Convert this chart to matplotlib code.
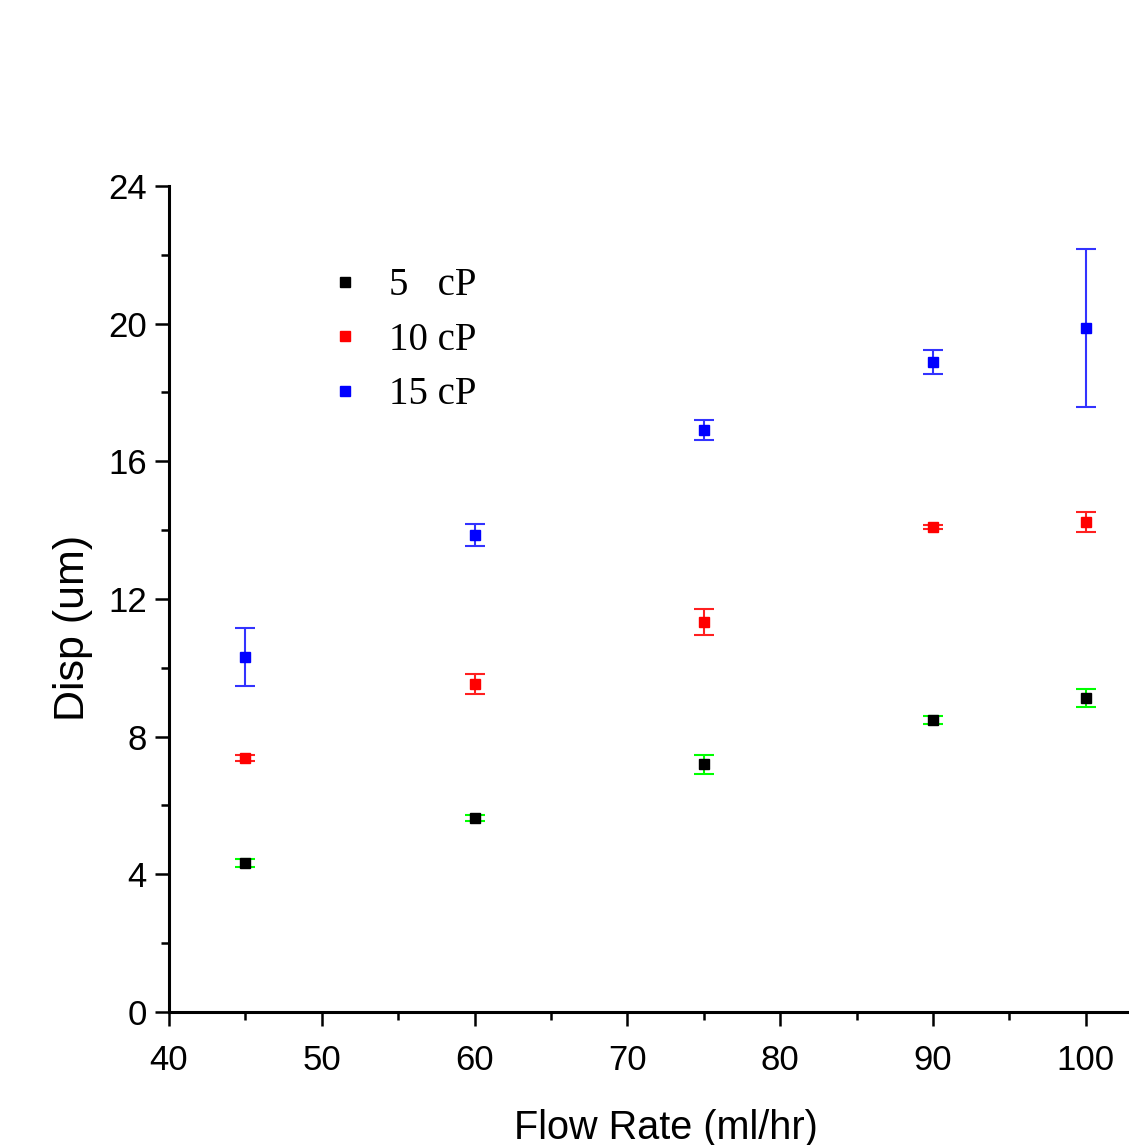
import matplotlib
matplotlib.use('Agg')
import matplotlib.pyplot as plt
from matplotlib.ticker import MultipleLocator
from matplotlib.lines import Line2D

flow = [45, 60, 75, 90, 100]

disp_5 = [4.33, 5.64, 7.20, 8.48, 9.12]
err_5 = [0.12, 0.08, 0.28, 0.12, 0.26]

disp_10 = [7.38, 9.53, 11.33, 14.09, 14.24]
err_10 = [0.10, 0.29, 0.38, 0.05, 0.29]

disp_15 = [10.31, 13.86, 16.91, 18.88, 19.87]
err_15 = [0.84, 0.32, 0.29, 0.35, 2.30]

labels = ['5   cP', '10 cP', '15 cP']

plt.rcParams['font.family'] = ['Liberation Sans', 'DejaVu Sans']

fig = plt.figure(figsize=(11.29, 11.45), dpi=100)
ax = fig.add_axes([0.1497, 0.1162, 0.8796, 0.7214])

series = [
    (disp_5, err_5, 'black', '#00ff00', labels[0]),
    (disp_10, err_10, '#ff0000', '#ff2020', labels[1]),
    (disp_15, err_15, '#0000ff', '#3333ff', labels[2]),
]
handles = []
for d, e, c, ec, lab in series:
    ax.errorbar(flow, d, yerr=e, fmt='s', color=c, ecolor=ec, markersize=6.5,
                elinewidth=1.5, capsize=7, capthick=1.5)
    handles.append(Line2D([], [], ls='none', marker='s', color=c, markersize=6.5, label=lab))

ax.set_xlim(40, 105)
ax.set_ylim(0, 24)
ax.xaxis.set_major_locator(MultipleLocator(10))
ax.xaxis.set_minor_locator(MultipleLocator(5))
ax.yaxis.set_major_locator(MultipleLocator(4))
ax.yaxis.set_minor_locator(MultipleLocator(2))

for s in ['top', 'right']:
    ax.spines[s].set_visible(False)
for s in ['left', 'bottom']:
    ax.spines[s].set_linewidth(2.2)

ax.tick_params(which='major', direction='out', length=10, width=1.8, labelsize=25, pad=6)
ax.tick_params(axis='x', which='major', pad=13)
ax.tick_params(which='minor', direction='out', length=6, width=1.8)

ax.set_xlabel('Flow Rate (ml/hr)', fontsize=28.5, labelpad=23)
ax.set_ylabel('Disp (um)', fontsize=31)
ax.yaxis.set_label_coords(-0.077, 0.465)

leg = ax.legend(handles=handles, loc='upper left', bbox_to_anchor=(0.257, 0.797), bbox_transform=fig.transFigure,
                frameon=False, handletextpad=0.64, labelspacing=0.45, handlelength=1.0,
                prop={'family': 'Liberation Serif', 'size': 28})

fig.savefig('out.png', dpi=100)
